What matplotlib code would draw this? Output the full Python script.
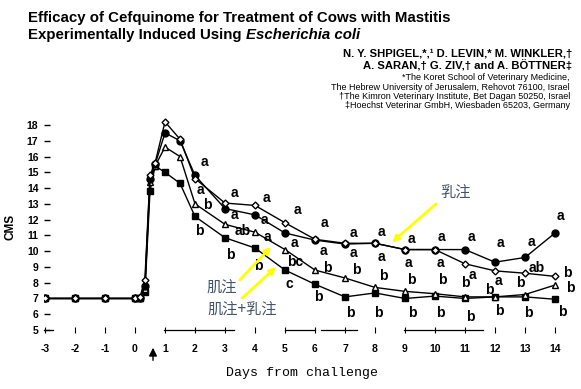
import matplotlib
matplotlib.use("Agg")
import matplotlib.pyplot as plt

plt.rcParams['font.family'] = ['Liberation Sans', 'DejaVu Sans']

# 时间点 (天)
days = [-3, -2, -1, 0, 0.17, 0.33, 0.5, 0.67, 1, 1.5, 2, 3, 4, 5, 6, 7, 8, 9, 10, 11, 12, 13, 14]

# 四组 CMS 值
cms_control = [7.0, 7.0, 7.0, 7.0, 7.1, 8.2, 14.8, 15.6, 18.2, 17.1, 14.6, 13.05, 12.9, 11.8,
               10.75, 10.5, 10.5, 10.1, 10.1, 9.2, 8.75, 8.6, 8.4]
cms_im = [7.0, 7.0, 7.0, 7.0, 7.0, 7.8, 14.6, 15.5, 17.5, 17.0, 14.8, 12.7, 12.3, 11.15,
          10.7, 10.45, 10.5, 10.1, 10.1, 10.1, 9.3, 9.6, 11.15]          # 乳注
cms_imu = [7.0, 7.0, 7.0, 7.0, 7.0, 7.6, 14.4, 15.4, 16.6, 16.0, 13.0, 11.7, 11.2, 10.1,
           8.8, 8.3, 7.7, 7.45, 7.3, 7.1, 7.1, 7.25, 7.85]              # 肌注
cms_both = [7.0, 7.0, 7.0, 7.0, 7.0, 7.4, 13.8, 15.4, 15.0, 14.3, 12.2, 10.85, 10.2, 8.8,
            7.9, 7.1, 7.35, 7.0, 7.15, 7.0, 7.1, 7.1, 6.95]             # 肌注+乳注

xticks = list(range(-3, 15))
yticks = list(range(5, 19))

# 显著性字母 (x, y, text)
letters = [
    (2.33, 15.65, 'a'), (2.17, 13.9, 'a'), (2.4, 12.9, 'b'), (2.13, 11.3, 'b'),
    (3.3, 13.7, 'a'), (3.3, 12.3, 'a'), (3.6, 11.3, 'ab'), (3.17, 9.75, 'b'),
    (4.37, 13.4, 'a'), (4.3, 12.0, 'a'), (4.43, 10.9, 'a'), (4.1, 9.05, 'b'),
    (5.43, 12.6, 'a'), (5.33, 10.5, 'a'), (5.35, 9.3, 'bc'), (5.13, 7.9, 'c'),
    (6.33, 11.8, 'a'), (6.27, 10.0, 'a'), (6.4, 8.9, 'b'), (6.1, 7.1, 'b'),
    (7.27, 11.15, 'a'), (7.27, 9.9, 'a'), (7.37, 8.8, 'b'), (7.17, 6.1, 'b'),
    (8.23, 11.2, 'a'), (8.23, 9.6, 'a'), (8.27, 8.4, 'b'), (8.1, 6.1, 'b'),
    (9.23, 10.8, 'a'), (9.13, 9.25, 'a'), (9.2, 8.2, 'b'), (9.23, 6.1, 'b'),
    (10.23, 10.9, 'a'), (10.17, 9.25, 'a'), (10.23, 8.2, 'b'), (10.17, 6.1, 'b'),
    (11.23, 10.9, 'a'), (11.25, 8.5, 'a'), (11.0, 8.0, 'b'), (11.17, 5.85, 'b'),
    (12.17, 10.5, 'a'), (12.13, 8.1, 'a'), (11.8, 7.55, 'b'), (12.13, 6.2, 'b'),
    (13.23, 10.6, 'a'), (13.4, 8.9, 'ab'), (12.83, 8.0, 'b'), (13.1, 6.1, 'b'),
    (14.17, 12.2, 'a'), (14.4, 8.6, 'b'), (14.5, 7.65, 'b'), (14.23, 6.15, 'b'),
]

W, H = 581, 389
fig = plt.figure(figsize=(W / 100, H / 100), dpi=100)
fig.set_facecolor('white')

# 坐标轴位置 (按像素换算)
left_px, right_px, top_px, bot_px = 44, 572, 115, 330
ax = fig.add_axes([left_px / W, 1 - bot_px / H, (right_px - left_px) / W, (bot_px - top_px) / H])
ax.set_xlim((left_px - 135) / 30, (right_px - 135) / 30)
ax.set_ylim(5, 5 + (bot_px - top_px) / 15.77)

for s in ax.spines.values():
    s.set_visible(False)

ax.plot(days, cms_both, color='black', lw=1, marker='s', ms=5, mfc='black', mec='black', zorder=3)
ax.plot(days, cms_imu, color='black', lw=1, marker='^', ms=4.5, mfc='white', mec='black', mew=1, zorder=4)
ax.plot(days, cms_im, color='black', lw=1, marker='o', ms=5, mfc='black', mec='black', zorder=5)
ax.plot(days, cms_control, color='black', lw=1, marker='D', ms=3.5, mfc='white', mec='black', mew=1, zorder=6)

for x, y, t in letters:
    ax.text(x, y, t, fontsize=10, fontweight='bold', ha='center', va='center', color='black', zorder=7)

# 刻度
ax.set_yticks(yticks)
ax.set_yticklabels([str(v) for v in yticks], fontsize=7.5, fontweight='bold')
ax.tick_params(axis='y', direction='in', length=4, width=1, pad=4)
ax.set_xticks(xticks)
ax.set_xticklabels([str(v) for v in xticks], fontsize=7.5, fontweight='bold')
ax.tick_params(axis='x', direction='inout', length=4, width=0.8, pad=8)

# 断续的 x 轴线 (扫描件样式)
for a, b in [(-3.05, -2.75), (0.95, 3.3), (5.0, 6.0), (6.2, 7.4), (8.95, 11.6)]:
    ax.plot([a, b], [5, 5], color='black', lw=0.9, clip_on=False, zorder=2)

ax.set_ylabel('CMS', fontsize=8.5, fontweight='bold')
ax.yaxis.set_label_coords(-0.052, 0.48)

# 接种箭头
ax.annotate('', xy=(0.6, 4.05), xytext=(0.6, 2.9), annotation_clip=False,
            arrowprops=dict(arrowstyle='-|>', color='black', lw=1, mutation_scale=12))

fig.text(302 / W, 1 - 373 / H, 'Days from challenge', family='Liberation Mono',
         fontsize=9.5, ha='center', va='center')

# 中文标注与黄色箭头
lab_color = '#44546A'
ax.text(10.7, 13.7, '乳注', family=['Noto Sans CJK SC'], fontsize=11, color=lab_color,
        ha='center', va='center')
ax.text(2.9, 7.66, '肌注', family=['Noto Sans CJK SC'], fontsize=11, color=lab_color,
        ha='center', va='center')
ax.text(3.57, 6.27, '肌注+乳注', family=['Noto Sans CJK SC', 'DejaVu Sans'], fontsize=11,
        color=lab_color, ha='center', va='center')
arrow_kw = dict(arrowstyle='-|>', color='#FFFF00', lw=2, mutation_scale=9)
ax.annotate('', xy=(8.5, 10.45), xytext=(10.1, 13.1), arrowprops=arrow_kw, zorder=8)
ax.annotate('', xy=(4.6, 10.4), xytext=(3.43, 8.04), arrowprops=arrow_kw, zorder=8)
ax.annotate('', xy=(4.77, 9.1), xytext=(3.5, 6.9), arrowprops=arrow_kw, zorder=8)

# 标题
fig.text(28 / W, 1 - 18 / H, 'Efficacy of Cefquinome for Treatment of Cows with Mastitis',
         fontsize=10.8, fontweight='bold', va='center', ha='left')
t2 = fig.text(28 / W, 1 - 35 / H, 'Experimentally Induced Using ',
              fontsize=10.8, fontweight='bold', va='center', ha='left')
fig.canvas.draw()
bb = t2.get_window_extent(fig.canvas.get_renderer())
fig.text(bb.x1 / W, 1 - 35 / H, 'Escherichia coli', fontsize=10.8, fontweight='bold',
         style='italic', va='center', ha='left')

fig.text(572 / W, 1 - 53 / H, 'N. Y. SHPIGEL,*,¹ D. LEVIN,* M. WINKLER,†',
         fontsize=8.1, fontweight='bold', ha='right', va='center')
fig.text(572 / W, 1 - 66 / H, 'A. SARAN,† G. ZIV,† and A. BÖTTNER‡',
         fontsize=8.1, fontweight='bold', ha='right', va='center')
affil = ['*The Koret School of Veterinary Medicine,',
         'The Hebrew University of Jerusalem, Rehovot 76100, Israel',
         '†The Kimron Veterinary Institute, Bet Dagan 50250, Israel',
         '‡Hoechst Veterinar GmbH, Wiesbaden 65203, Germany']
for i, line in enumerate(affil):
    fig.text(570 / W, 1 - (77.5 + 9.5 * i) / H, line, fontsize=6.5, ha='right', va='center')

fig.savefig('out.png', dpi=100, facecolor='white')
